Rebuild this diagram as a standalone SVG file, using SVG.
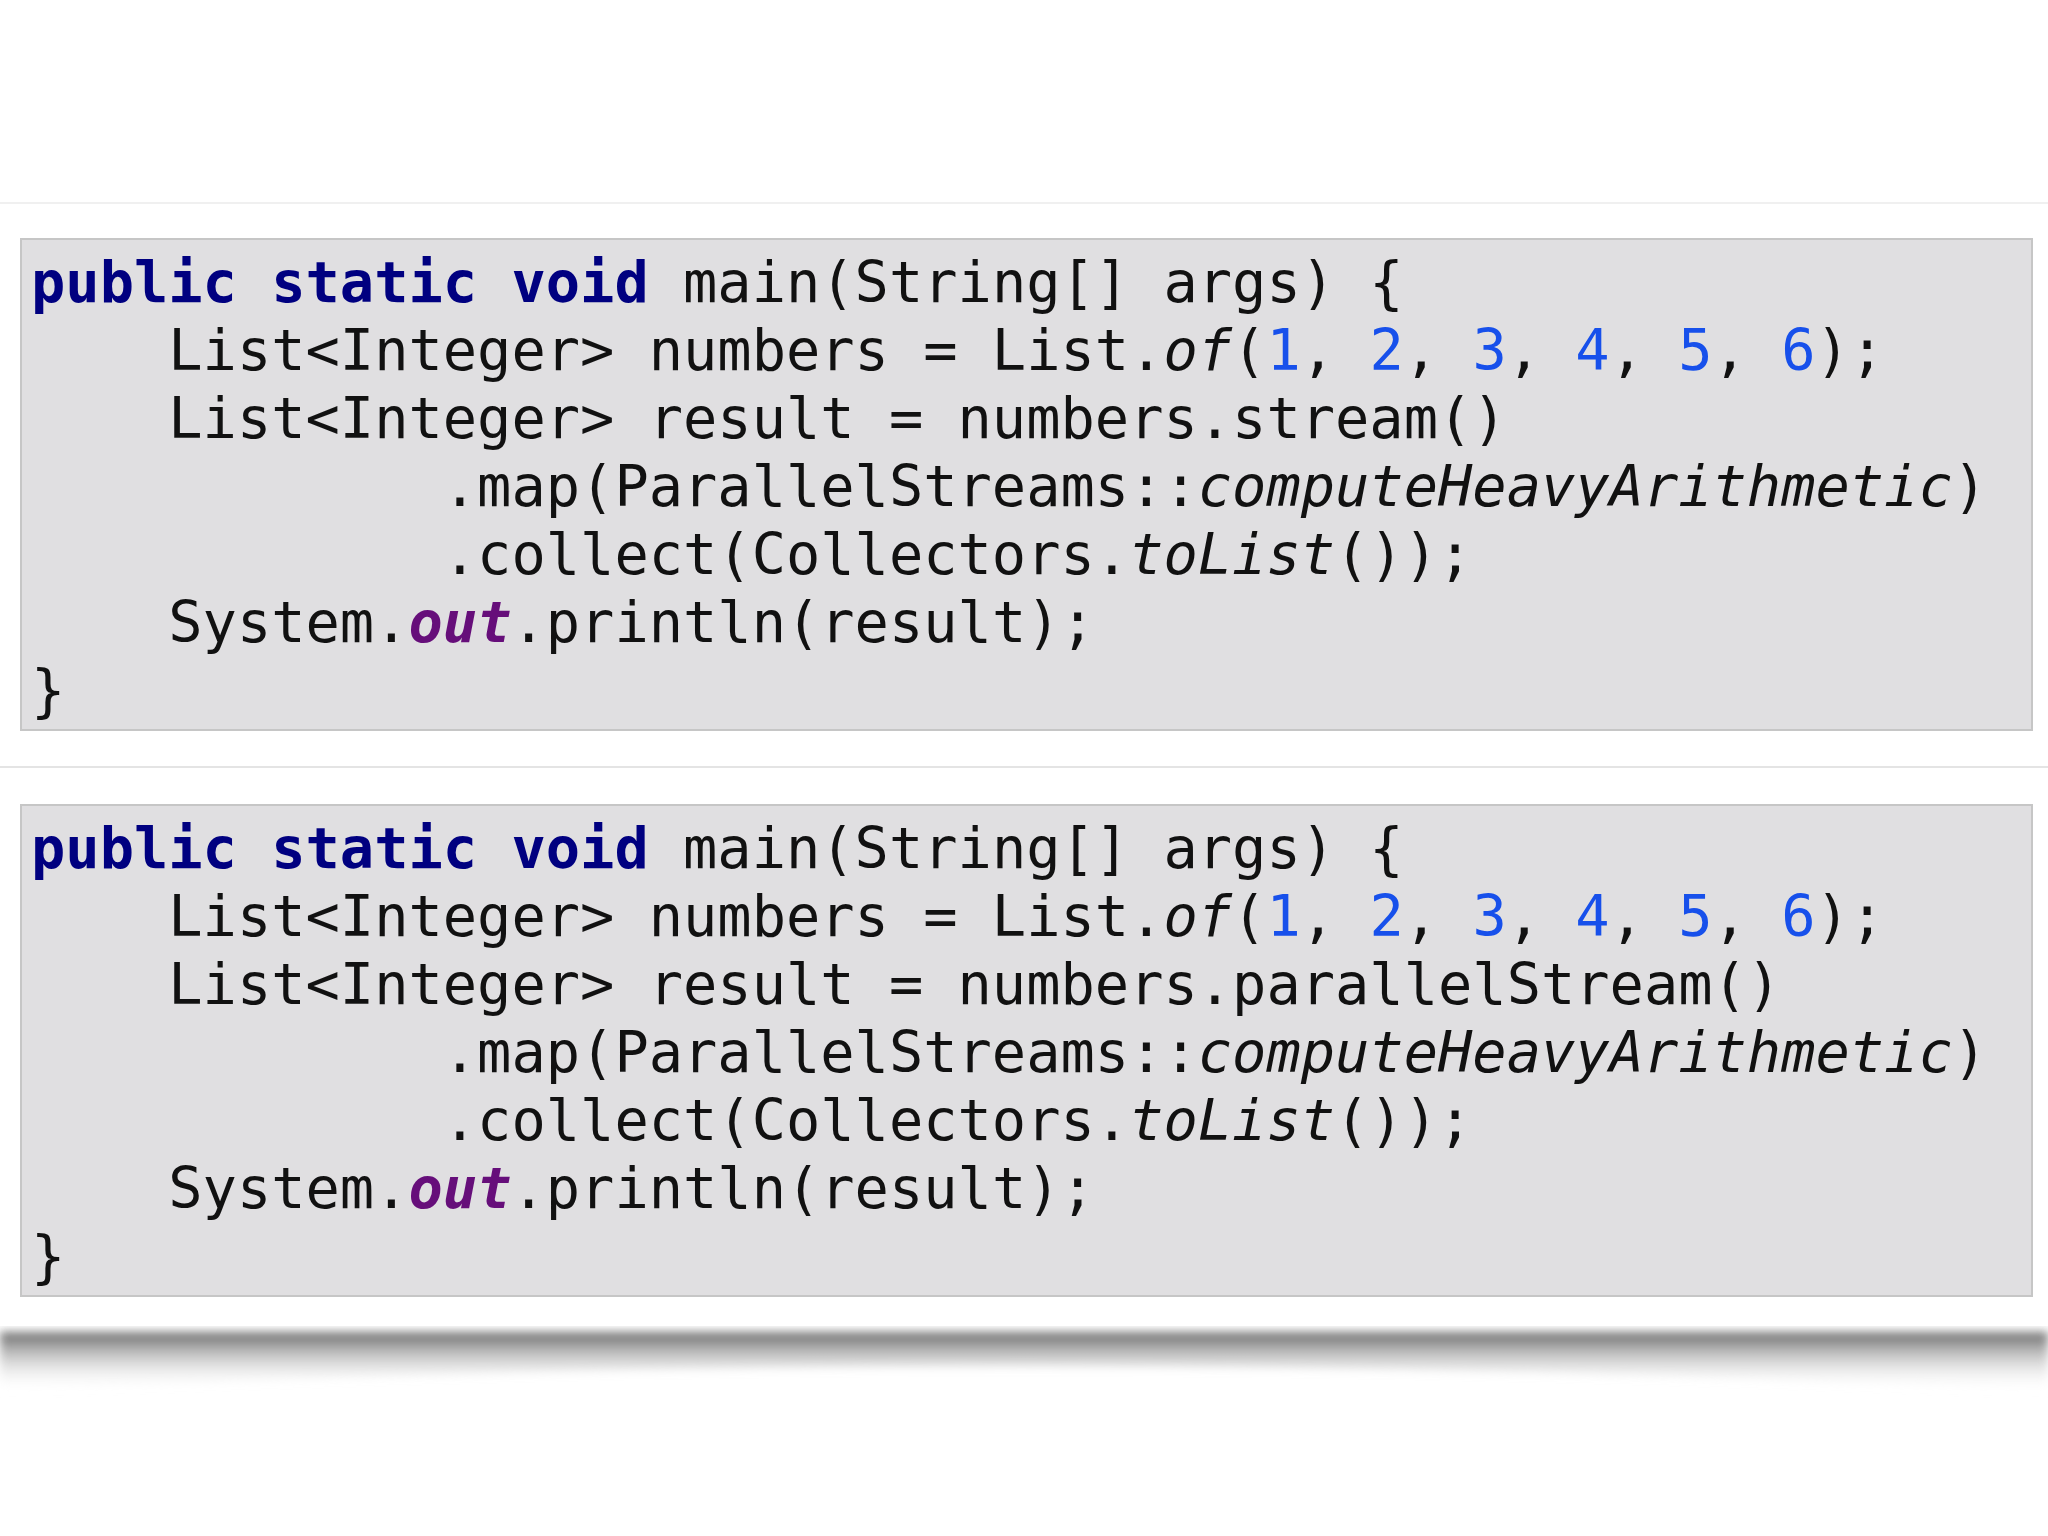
<svg xmlns="http://www.w3.org/2000/svg" width="2048" height="1536" viewBox="0 0 2048 1536">
<defs>
<style>
.box{fill:#e0dfe1;stroke:#c6c6c6;stroke-width:2}
text{font-family:"DejaVu Sans Mono","Liberation Mono",monospace;font-size:57px;fill:#111}
.k{fill:#000080;font-weight:bold}
.n{fill:#1750eb}
.i{font-style:italic}
.o{fill:#660e7a;font-weight:bold;font-style:italic}
</style>
<linearGradient id="sh" x1="0" y1="0" x2="0" y2="1">
<stop offset="0" stop-color="#666"/><stop offset="1" stop-color="#fff" stop-opacity="0"/>
</linearGradient>
<filter id="bl"><feGaussianBlur stdDeviation="5"/></filter>
</defs>
<rect width="2048" height="1536" fill="#fff"/>
<line x1="0" y1="203" x2="2048" y2="203" stroke="#f0f0f0" stroke-width="2"/>
<line x1="0" y1="767" x2="2048" y2="767" stroke="#e4e4e4" stroke-width="2"/>
<path d="M0 1332 L2048 1332 L2048 1392 Q1024 1340 0 1392 Z" fill="url(#sh)" filter="url(#bl)"/>
<g id="code1" transform="translate(-2,2)">
<rect class="box" x="23" y="237" width="2011" height="491"/>
<text xml:space="preserve" x="33" y="300"><tspan class="k">public static void</tspan> main(String[] args) {</text>
<text xml:space="preserve" x="33" y="368">    List&lt;Integer&gt; numbers = List.<tspan class="i">of</tspan>(<tspan class="n">1</tspan>, <tspan class="n">2</tspan>, <tspan class="n">3</tspan>, <tspan class="n">4</tspan>, <tspan class="n">5</tspan>, <tspan class="n">6</tspan>);</text>
<text xml:space="preserve" x="33" y="436">    List&lt;Integer&gt; result = numbers.stream()</text>
<text xml:space="preserve" x="33" y="504">            .map(ParallelStreams::<tspan class="i">computeHeavyArithmetic</tspan>)</text>
<text xml:space="preserve" x="33" y="572">            .collect(Collectors.<tspan class="i">toList</tspan>());</text>
<text xml:space="preserve" x="33" y="640">    System.<tspan class="o">out</tspan>.println(result);</text>
<text xml:space="preserve" x="33" y="708">}</text>
</g>
<g id="code2" transform="translate(-2,2)">
<rect class="box" x="23" y="803" width="2011" height="491"/>
<text xml:space="preserve" x="33" y="866"><tspan class="k">public static void</tspan> main(String[] args) {</text>
<text xml:space="preserve" x="33" y="934">    List&lt;Integer&gt; numbers = List.<tspan class="i">of</tspan>(<tspan class="n">1</tspan>, <tspan class="n">2</tspan>, <tspan class="n">3</tspan>, <tspan class="n">4</tspan>, <tspan class="n">5</tspan>, <tspan class="n">6</tspan>);</text>
<text xml:space="preserve" x="33" y="1002">    List&lt;Integer&gt; result = numbers.parallelStream()</text>
<text xml:space="preserve" x="33" y="1070">            .map(ParallelStreams::<tspan class="i">computeHeavyArithmetic</tspan>)</text>
<text xml:space="preserve" x="33" y="1138">            .collect(Collectors.<tspan class="i">toList</tspan>());</text>
<text xml:space="preserve" x="33" y="1206">    System.<tspan class="o">out</tspan>.println(result);</text>
<text xml:space="preserve" x="33" y="1274">}</text>
</g>
</svg>
